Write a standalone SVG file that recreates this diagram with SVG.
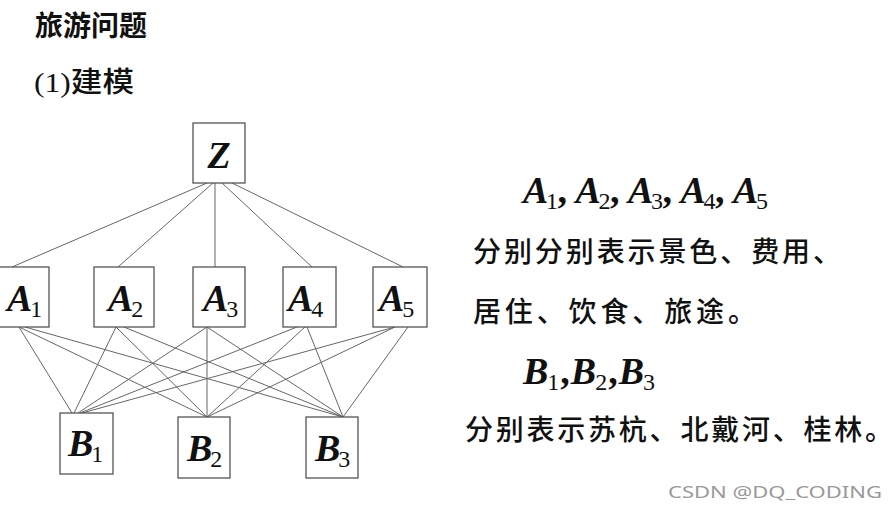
<svg xmlns="http://www.w3.org/2000/svg" width="896" height="514" viewBox="0 0 896 514">
<style>
.box{fill:#fff;stroke:#555;stroke-width:1.3}
.m{font-family:"Liberation Serif",serif;font-weight:bold;font-style:italic;font-size:38px;fill:#111}
.s{font-family:"Liberation Serif",serif;font-size:24px;font-style:normal;font-weight:normal}
.cn{font-family:"Noto Sans CJK SC",sans-serif;font-size:28px;fill:#111;font-weight:500}
#edges line{stroke:#666;stroke-width:1}
</style>
<rect width="896" height="514" fill="#fff"/>
<text x="35" y="36" class="cn" style="font-weight:bold" font-size="29">旅游问题</text>
<text x="34" y="92" class="cn" font-size="28" textLength="100" lengthAdjust="spacingAndGlyphs"><tspan font-family="Liberation Serif">(1)</tspan>建模</text>
<g id="edges">
<line x1="207" y1="183" x2="12" y2="267"/>
<line x1="213" y1="183" x2="118" y2="267"/>
<line x1="215" y1="183" x2="215" y2="267"/>
<line x1="222" y1="183" x2="312" y2="267"/>
<line x1="232" y1="183" x2="403" y2="267"/>
<line x1="19" y1="327" x2="72" y2="413"/>
<line x1="19" y1="327" x2="207" y2="417"/>
<line x1="25" y1="327" x2="343" y2="417"/>
<line x1="116" y1="327" x2="74" y2="413"/>
<line x1="116" y1="327" x2="207" y2="417"/>
<line x1="124" y1="327" x2="343" y2="417"/>
<line x1="207" y1="327" x2="78" y2="413"/>
<line x1="207" y1="327" x2="207" y2="417"/>
<line x1="207" y1="327" x2="343" y2="417"/>
<line x1="297" y1="327" x2="80" y2="413"/>
<line x1="305" y1="327" x2="207" y2="417"/>
<line x1="307" y1="327" x2="343" y2="417"/>
<line x1="395" y1="327" x2="82" y2="413"/>
<line x1="395" y1="327" x2="207" y2="417"/>
<line x1="408" y1="327" x2="343" y2="417"/>
</g>
<g id="Z"><rect class="box" x="193" y="123" width="52" height="60"/><text class="m" x="219" y="168" text-anchor="middle" font-size="42">Z</text></g>
<g id="A1"><rect class="box" x="-5" y="267" width="54" height="60"/><text class="m" x="7" y="311">A<tspan class="s" dx="-2" dy="6">1</tspan></text></g>
<g id="A2"><rect class="box" x="94" y="267" width="60" height="60"/><text class="m" x="108" y="311">A<tspan class="s" dx="-2" dy="6">2</tspan></text></g>
<g id="A3"><rect class="box" x="193" y="267" width="52" height="60"/><text class="m" x="203" y="311">A<tspan class="s" dx="-2" dy="6">3</tspan></text></g>
<g id="A4"><rect class="box" x="283" y="267" width="53" height="60"/><text class="m" x="288" y="311">A<tspan class="s" dx="-2" dy="6">4</tspan></text></g>
<g id="A5"><rect class="box" x="373" y="267" width="54" height="60"/><text class="m" x="379" y="311">A<tspan class="s" dx="-2" dy="6">5</tspan></text></g>
<g id="B1"><rect class="box" x="60" y="413" width="53" height="61"/><text class="m" x="68" y="456">B<tspan class="s" dx="-2" dy="6">1</tspan></text></g>
<g id="B2"><rect class="box" x="178" y="417" width="52" height="61"/><text class="m" x="187" y="461">B<tspan class="s" dx="-2" dy="6">2</tspan></text></g>
<g id="B3"><rect class="box" x="306" y="417" width="52" height="61"/><text class="m" x="315" y="461">B<tspan class="s" dx="-2" dy="6">3</tspan></text></g>
<text class="m" x="523" y="203" font-size="36" textLength="245">A<tspan class="s" dx="-2" dy="6">1</tspan><tspan dy="-6" font-style="normal">, </tspan>A<tspan class="s" dx="-2" dy="6">2</tspan><tspan dy="-6" font-style="normal">, </tspan>A<tspan class="s" dx="-2" dy="6">3</tspan><tspan dy="-6" font-style="normal">, </tspan>A<tspan class="s" dx="-2" dy="6">4</tspan><tspan dy="-6" font-style="normal">, </tspan>A<tspan class="s" dx="-2" dy="6">5</tspan></text>
<text class="cn" x="473" y="262" textLength="368">分别分别表示景色、费用、</text>
<text class="cn" x="473" y="322" textLength="283">居住、饮食、旅途。</text>
<text class="m" x="523" y="384" font-size="36" textLength="132">B<tspan class="s" dx="-2" dy="6">1</tspan><tspan dy="-6" font-style="normal">,</tspan>B<tspan class="s" dx="-2" dy="6">2</tspan><tspan dy="-6" font-style="normal">,</tspan>B<tspan class="s" dx="-2" dy="6">3</tspan></text>
<text class="cn" x="465" y="440" textLength="428">分别表示苏杭、北戴河、桂林。</text>
<text x="668" y="498" font-family="Noto Sans, sans-serif" font-size="17" fill="#999" textLength="214" lengthAdjust="spacingAndGlyphs">CSDN @DQ_CODING</text>
</svg>
